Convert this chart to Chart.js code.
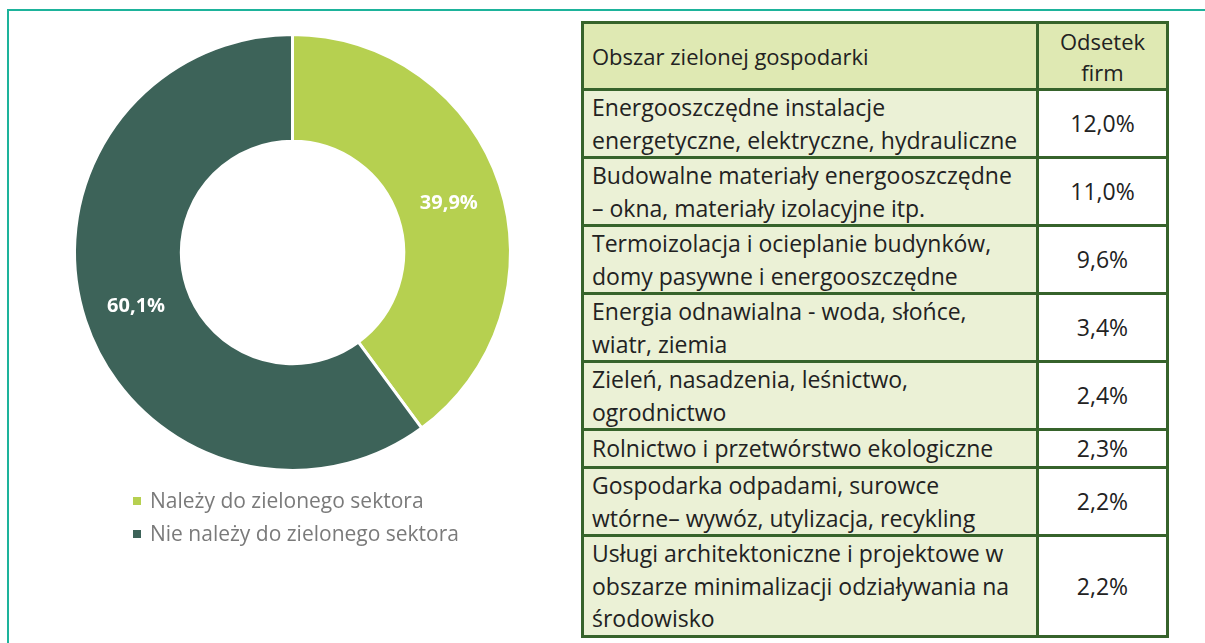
<!DOCTYPE html>
<html lang="pl">
<head>
<meta charset="utf-8">
<script src="https://cdn.jsdelivr.net/npm/chart.js@4.4.1/dist/chart.umd.min.js"></script>
<style>
  body { margin: 0; background: #fff; font-family: "Open Sans", sans-serif; width: 1205px; height: 643px; overflow: hidden; position: relative; }
  #frame { position: absolute; left: 7px; top: 9px; width: 1300px; height: 700px; border: 2px solid #1db39b; }
  #donutBox { position: absolute; left: 58px; top: 18px; width: 469px; height: 469px; }
  #legend { position: absolute; left: 133px; top: 484px; font-size: 21px; color: #7a7a7a; }
  #legend div { height: 33px; line-height: 33px; white-space: nowrap; }
  #legend span { display: inline-block; width: 8px; height: 8px; margin-right: 9px; vertical-align: 3px; }
  #tbl { position: absolute; left: 581px; top: 21px; width: 588px; border-collapse: collapse; font-size: 23px; color: #222; }
  #tbl td, #tbl th { border: 3px solid #36632b; padding: 0 8px; line-height: 32.5px; height: 35px; font-weight: normal; white-space: nowrap; }
  #tbl th { background: #dfe9b3; text-align: left; height: 60px; font-size: 22px; }
  #tbl th.num { text-align: center; width: 111px; line-height: 31px; padding-top: 2px; }
  #tbl td { background: #ebf1d6; }
  #tbl td.num { background: #fff; text-align: center; }
</style>
</head>
<body>
<div id="frame"></div>
<div id="donutBox"><canvas id="donut"></canvas></div>
<div id="legend"></div>
<table id="tbl"></table>
<script>
// wykres kołowy
const kategorie = ["Należy do zielonego sektora", "Nie należy do zielonego sektora"];
const udzialy = [39.9, 60.1];
const kolory = ["#b6d050", "#3d6359"];

// tabela
const naglowki = ["Obszar zielonej gospodarki", "Odsetek<br>firm"];
const obszary = [
  "Energooszczędne instalacje<br>energetyczne, elektryczne, hydrauliczne",
  "Budowalne materiały energooszczędne<br>– okna, materiały izolacyjne itp.",
  "Termoizolacja i ocieplanie budynków,<br>domy pasywne i energooszczędne",
  "Energia odnawialna - woda, słońce,<br>wiatr, ziemia",
  "Zieleń, nasadzenia, leśnictwo,<br>ogrodnictwo",
  "Rolnictwo i przetwórstwo ekologiczne",
  "Gospodarka odpadami, surowce<br>wtórne– wywóz, utylizacja, recykling",
  "Usługi architektoniczne i projektowe w<br>obszarze minimalizacji odziaływania na<br>środowisko"
];
const odsetki = [12.0, 11.0, 9.6, 3.4, 2.4, 2.3, 2.2, 2.2];

const fmt = v => v.toFixed(1).replace(".", ",") + "%";

// etykiety na wycinkach
const etykiety = {
  id: "etykiety",
  afterDatasetsDraw(chart) {
    const ctx = chart.ctx;
    const meta = chart.getDatasetMeta(0);
    ctx.save();
    ctx.font = "bold 20px 'Open Sans', sans-serif";
    ctx.fillStyle = "#fff";
    ctx.textAlign = "center";
    ctx.textBaseline = "middle";
    meta.data.forEach((arc, i) => {
      const p = arc.tooltipPosition();
      ctx.fillText(fmt(chart.data.datasets[0].data[i]), p.x, p.y + 2);
    });
    ctx.restore();
  }
};

const chart = new Chart(document.getElementById("donut"), {
  type: "doughnut",
  data: {
    labels: kategorie,
    datasets: [{
      data: udzialy,
      backgroundColor: kolory,
      borderColor: "#fff",
      borderWidth: 3
    }]
  },
  options: {
    responsive: true,
    maintainAspectRatio: false,
    animation: false,
    cutout: "51%",
    layout: { padding: 15 },
    plugins: {
      legend: { display: false },
      tooltip: { enabled: false }
    }
  },
  plugins: [etykiety]
});

// legenda z danych wykresu
const legend = document.getElementById("legend");
chart.data.labels.forEach((l, i) => {
  const row = document.createElement("div");
  row.innerHTML = `<span style="background:${kolory[i]}"></span>${l}`;
  legend.appendChild(row);
});

// tabela z danych
const tbl = document.getElementById("tbl");
let html = `<tr><th>${naglowki[0]}</th><th class="num">${naglowki[1]}</th></tr>`;
obszary.forEach((o, i) => {
  html += `<tr><td>${o}</td><td class="num">${fmt(odsetki[i])}</td></tr>`;
});
tbl.innerHTML = html;
</script>
</body>
</html>
